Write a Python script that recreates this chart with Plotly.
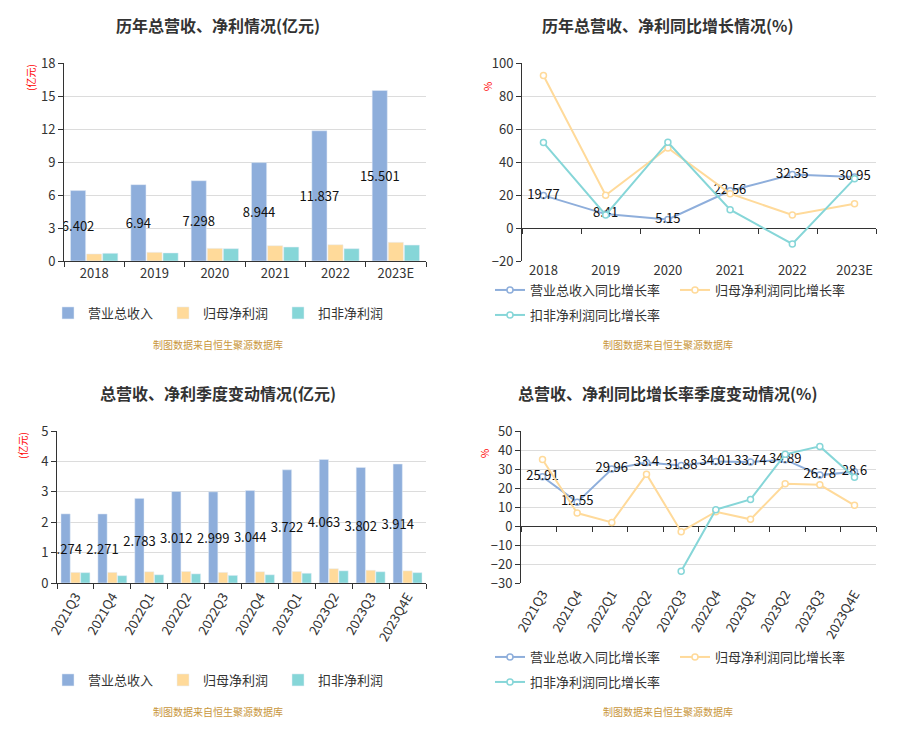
import plotly.graph_objects as go

# ---- data ----
years = ["2018", "2019", "2020", "2021", "2022", "2023E"]
revenue = [6.402, 6.94, 7.298, 8.944, 11.837, 15.501]
net_profit = [0.64, 0.79, 1.15, 1.39, 1.48, 1.70]
net_profit_ded = [0.70, 0.73, 1.12, 1.27, 1.12, 1.45]

revenue_yoy = [19.77, 8.41, 5.15, 22.56, 32.35, 30.95]
net_profit_yoy = [92.4, 19.8, 48.5, 20.8, 7.9, 14.7]
net_profit_ded_yoy = [51.8, 7.9, 52.0, 11.1, -9.7, 29.9]

quarters = ["2021Q3", "2021Q4", "2022Q1", "2022Q2", "2022Q3",
            "2022Q4", "2023Q1", "2023Q2", "2023Q3", "2023Q4E"]
q_revenue = [2.274, 2.271, 2.783, 3.012, 2.999, 3.044, 3.722, 4.063, 3.802, 3.914]
q_net_profit = [0.35, 0.35, 0.37, 0.38, 0.35, 0.37, 0.38, 0.47, 0.42, 0.40]
q_net_profit_ded = [0.34, 0.24, 0.27, 0.30, 0.25, 0.27, 0.32, 0.40, 0.37, 0.34]

q_revenue_yoy = [25.91, 12.55, 29.96, 33.4, 31.88, 34.01, 33.74, 34.89, 26.78, 28.6]
q_net_profit_yoy = [35.0, 6.8, 1.9, 27.3, -3.0, 7.5, 3.5, 22.2, 21.7, 10.9]
q_net_profit_ded_yoy = [None, None, None, None, -23.8, 8.6, 14.0, 37.7, 41.9, 25.6]

# ---- style ----
# the page body has an 8px margin, so the figure is a bit smaller than the window
OFF = 8
W, H = 904 - 2 * OFF, 733 - 2 * OFF
FONT = "Noto Sans CJK SC, Noto Sans, sans-serif"
BLUE = "#8eaedb"
ORANGE = "#ffda9a"
TEAL = "#86d6d8"
TXT = "#333333"
GRID = "#dcdcdc"
SRC = "#c8963c"


def px_x(p):
    return (p - OFF) / W


def px_y(p):
    return 1 - (p - OFF) / H


dom = {
    1: ([px_x(64), px_x(426)], [px_y(261), px_y(63)]),
    2: ([px_x(522), px_x(876)], [px_y(261), px_y(63)]),
    3: ([px_x(57), px_x(426)], [px_y(583), px_y(431)]),
    4: ([px_x(521), px_x(876)], [px_y(583), px_y(431)]),
}
yranges = {1: [0, 18], 2: [-20, 100], 3: [0, 5], 4: [-30, 50]}
ydticks = {1: 3, 2: 20, 3: 1, 4: 10}

fig = go.Figure()

# top-left bars
fig.add_trace(go.Bar(x=years, y=revenue, name="营业总收入", marker_color=BLUE,
                     text=[str(v) for v in revenue], textposition="inside",
                     insidetextanchor="middle", textangle=0,
                     textfont=dict(color="#111", size=13),
                     xaxis="x", yaxis="y", legend="legend"))
fig.add_trace(go.Bar(x=years, y=net_profit, name="归母净利润", marker_color=ORANGE,
                     xaxis="x", yaxis="y", legend="legend"))
fig.add_trace(go.Bar(x=years, y=net_profit_ded, name="扣非净利润", marker_color=TEAL,
                     xaxis="x", yaxis="y", legend="legend"))


def line(x, y, name, color, ax, ay, leg, labels=False):
    return go.Scatter(
        x=x, y=y, name=name, mode="lines+markers+text" if labels else "lines+markers",
        line=dict(color=color, width=2),
        marker=dict(symbol="circle", size=6, color="white", line=dict(color=color, width=1.5)),
        text=[str(v) for v in y] if labels else None,
        textposition="middle center", textfont=dict(color="#111", size=13),
        xaxis=ax, yaxis=ay, legend=leg, connectgaps=False,
    )


# top-right lines
fig.add_trace(line(years, revenue_yoy, "营业总收入同比增长率", BLUE, "x2", "y2", "legend2", True))
fig.add_trace(line(years, net_profit_yoy, "归母净利润同比增长率", ORANGE, "x2", "y2", "legend2"))
fig.add_trace(line(years, net_profit_ded_yoy, "扣非净利润同比增长率", TEAL, "x2", "y2", "legend3"))

# bottom-left bars
fig.add_trace(go.Bar(x=quarters, y=q_revenue, name="营业总收入", marker_color=BLUE,
                     text=[str(v) for v in q_revenue], textposition="inside",
                     insidetextanchor="middle", textangle=0,
                     textfont=dict(color="#111", size=13),
                     xaxis="x3", yaxis="y3", legend="legend4"))
fig.add_trace(go.Bar(x=quarters, y=q_net_profit, name="归母净利润", marker_color=ORANGE,
                     xaxis="x3", yaxis="y3", legend="legend4"))
fig.add_trace(go.Bar(x=quarters, y=q_net_profit_ded, name="扣非净利润", marker_color=TEAL,
                     xaxis="x3", yaxis="y3", legend="legend4"))

# bottom-right lines
fig.add_trace(line(quarters, q_revenue_yoy, "营业总收入同比增长率", BLUE, "x4", "y4", "legend5", True))
fig.add_trace(line(quarters, q_net_profit_yoy, "归母净利润同比增长率", ORANGE, "x4", "y4", "legend5"))
fig.add_trace(line(quarters, q_net_profit_ded_yoy, "扣非净利润同比增长率", TEAL, "x4", "y4", "legend6"))

# empty helpers so the zero-line tick axes get drawn
for cats, ax, ay in ((years, "x5", "y2"), (quarters, "x6", "y4")):
    fig.add_trace(go.Scatter(x=cats, y=[None] * len(cats), mode="lines", xaxis=ax, yaxis=ay,
                             showlegend=False, hoverinfo="skip"))

layout = dict(
    width=W, height=H, autosize=False,
    margin=dict(l=0, r=0, t=0, b=0, pad=0, autoexpand=False),
    paper_bgcolor="white", plot_bgcolor="white",
    font=dict(family=FONT, color=TXT, size=13),
    bargap=0.2, bargroupgap=0.06,
    uniformtext=dict(minsize=13, mode="show"),
    showlegend=True,
)

for i in range(1, 5):
    sx = "" if i == 1 else str(i)
    is_bar = i in (1, 3)
    quarterly = i in (3, 4)
    layout["xaxis" + sx] = dict(
        domain=dom[i][0], anchor="y" + sx, type="category", automargin=False,
        showgrid=False, zeroline=False,
        showline=is_bar, linecolor=TXT, linewidth=1,
        ticks="outside", tickson="boundaries", ticklen=5 if is_bar else 7,
        tickcolor=TXT if is_bar else "rgba(0,0,0,0)",
        tickangle=-60 if quarterly else 0,
        tickfont=dict(size=13, color=TXT), fixedrange=True,
    )
    layout["yaxis" + sx] = dict(
        domain=dom[i][1], anchor="x" + sx, range=yranges[i], dtick=ydticks[i],
        automargin=False,
        showgrid=True, gridcolor=GRID, gridwidth=1,
        showline=True, linecolor=TXT, linewidth=1,
        ticks="outside", ticklen=5, tickcolor=TXT,
        zeroline=not is_bar, zerolinecolor=TXT, zerolinewidth=1,
        tickfont=dict(size=13, color=TXT), fixedrange=True,
    )

# tick marks on the zero line of the two growth charts
for i, ax_id, cats in ((2, "xaxis5", years), (4, "xaxis6", quarters)):
    y0, y1 = dom[i][1]
    lo, hi = yranges[i]
    zero_pos = y0 + (y1 - y0) * (0 - lo) / (hi - lo)
    layout[ax_id] = dict(
        overlaying="x" + str(i), anchor="free", position=zero_pos, automargin=False,
        domain=dom[i][0], type="category", categoryorder="array", categoryarray=cats,
        range=[-0.5, len(cats) - 0.5], tickson="boundaries",
        showticklabels=False, showgrid=False, zeroline=False, showline=False,
        ticks="outside", ticklen=5, tickcolor=TXT, fixedrange=True,
    )

leg_common = dict(orientation="h", yanchor="middle", xanchor="left",
                  font=dict(size=13, color=TXT), bgcolor="rgba(0,0,0,0)",
                  itemclick=False, itemdoubleclick=False)
layout["legend"] = dict(leg_common, x=px_x(48), y=px_y(313), entrywidth=70)
layout["legend2"] = dict(leg_common, x=px_x(490), y=px_y(290), entrywidth=140)
layout["legend3"] = dict(leg_common, x=px_x(490), y=px_y(315), entrywidth=140)
layout["legend4"] = dict(leg_common, x=px_x(48), y=px_y(680), entrywidth=70)
layout["legend5"] = dict(leg_common, x=px_x(490), y=px_y(657), entrywidth=140)
layout["legend6"] = dict(leg_common, x=px_x(490), y=px_y(682), entrywidth=140)

annotations = []
titles = [
    ("历年总营收、净利情况(亿元)", 218, 25),
    ("历年总营收、净利同比增长情况(%)", 668, 25),
    ("总营收、净利季度变动情况(亿元)", 218, 393),
    ("总营收、净利同比增长率季度变动情况(%)", 668, 393),
]
for t, x, y in titles:
    annotations.append(dict(text="<b>" + t + "</b>", x=px_x(x), y=px_y(y),
                            xref="paper", yref="paper", showarrow=False,
                            font=dict(size=16, color=TXT), xanchor="center", yanchor="middle"))
units = [("(亿元)", 30, 78), ("%", 487, 87), ("(亿元)", 22, 445), ("%", 484, 453)]
for t, x, y in units:
    annotations.append(dict(text=t, x=px_x(x), y=px_y(y), xref="paper", yref="paper",
                            showarrow=False, textangle=-90,
                            font=dict(size=10, color="red"), xanchor="center", yanchor="middle"))
for x, y in ((218, 345), (668, 345), (218, 711), (668, 711)):
    annotations.append(dict(text="制图数据来自恒生聚源数据库", x=px_x(x), y=px_y(y),
                            xref="paper", yref="paper", showarrow=False,
                            font=dict(size=10, color=SRC), xanchor="center", yanchor="middle"))
layout["annotations"] = annotations

fig.update_layout(**layout)
fig.write_html("out.html")
